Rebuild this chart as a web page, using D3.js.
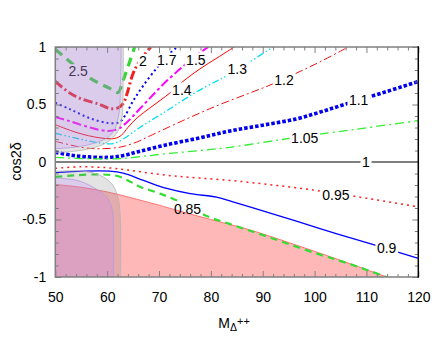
<!DOCTYPE html>
<html><head><meta charset="utf-8">
<script src="https://cdn.jsdelivr.net/npm/d3@7"></script>
<style>
body{margin:0;background:#fff;}
text{font-family:"Liberation Sans",Arial,sans-serif;}
</style></head>
<body><svg id="c" width="443" height="354"></svg>
<script>
// ---------- data ----------
const xDomain = [50, 120];
const yDomain = [-1, 1];
const xMajorTicks = [50, 60, 70, 80, 90, 100, 110, 120];
const yMajorTicks = [-1, -0.5, 0, 0.5, 1];
const levels = ["2.5","2","1.7","1.5","1.4","1.3","1.2","1.1","1.05","1","0.95","0.9","0.85"];

const curve2_5 = [[50,0.98],[53.4,0.85],[56.7,0.73],[60.5,0.64],[62.1,0.605],[63,0.70],[64.1,0.84],[65.3,1.0]];
const curve2 = [[50,0.70],[52.8,0.60],[55,0.55],[58.6,0.50],[60.5,0.465],[62.1,0.47],[63.1,0.51],[63.8,0.59],[65,0.77],[66.3,0.88],[68.4,1.0]];
const curve1_7 = [[50,0.515],[52.8,0.46],[56.7,0.38],[60.2,0.34],[62.3,0.345],[63.4,0.40],[65,0.53],[66.9,0.66],[69.6,0.82],[71.5,0.92],[73.5,1.0]];
const curve1_5 = [[50,0.39],[52.8,0.355],[56.7,0.30],[60,0.27],[62,0.285],[63.3,0.325],[65,0.40],[68.3,0.558],[71.5,0.706],[74.6,0.83],[77.3,0.93],[79.5,1.0]];
const curve1_4 = [[50,0.325],[54.2,0.255],[58.6,0.21],[61.5,0.205],[62.8,0.235],[64,0.30],[65.8,0.385],[68.3,0.472],[72.1,0.60],[74.6,0.70],[77.9,0.81],[81.2,0.905],[84.5,1.0]];
const curve1_3 = [[50,0.25],[54.2,0.205],[58.6,0.165],[61.1,0.16],[63.1,0.20],[66.3,0.30],[71.5,0.446],[76.6,0.593],[81.2,0.706],[83.7,0.766],[92,1.0]];
const curve1_2 = [[50,0.18],[55.4,0.125],[58.6,0.115],[61.9,0.125],[63.5,0.14],[65.8,0.175],[68.3,0.228],[74.6,0.36],[81.2,0.49],[87.5,0.60],[92,0.68],[96.6,0.775],[101,0.87],[106.5,1.0]];
const curve1_1 = [[50,0.085],[53,0.06],[56,0.045],[60,0.04],[63,0.055],[66,0.09],[71.5,0.15],[77.9,0.21],[83.7,0.27],[90,0.32],[96.5,0.375],[101.5,0.44],[106.8,0.515],[113,0.60],[120,0.70]];
const curve1_05 = [[50,0.04],[55,0.03],[60,0.027],[63,0.03],[67,0.05],[72,0.075],[78,0.10],[83.7,0.128],[90,0.17],[95.9,0.21],[108,0.285],[120,0.36]];
const curve1 = [[50,0],[120,0]];
const curve0_95 = [[50,-0.055],[55,-0.042],[60,-0.05],[64,-0.07],[68.3,-0.097],[73,-0.122],[77.9,-0.14],[83.7,-0.16],[90,-0.19],[96,-0.222],[102.3,-0.26],[110,-0.315],[120,-0.39]];
const curve0_9 = [[50,-0.093],[55.4,-0.08],[60.5,-0.08],[63.1,-0.097],[67,-0.16],[71.5,-0.23],[76,-0.275],[81.1,-0.305],[83.7,-0.339],[87.5,-0.39],[96.5,-0.515],[104,-0.62],[112,-0.728],[120,-0.838]];
const curve0_85 = [[50,-0.13],[53.5,-0.117],[58.6,-0.108],[61.8,-0.12],[64,-0.16],[66.3,-0.215],[70.2,-0.275],[74.7,-0.36],[79.2,-0.47],[83.7,-0.54],[90,-0.635],[100,-0.79],[107,-0.89],[113.9,-1.0]];

const labelPositions = [[54.4,0.79],[66.9,0.88],[71.5,0.89],[77.1,0.89],[74.4,0.63],[85.1,0.81],[94.1,0.715],[108.5,0.54],[98.1,0.21],[109.9,0],[104.1,-0.285],[113.9,-0.75],[75.5,-0.405]];

// excluded / allowed regions (boundary curves)
const pinkBoundary = [[50,-0.195],[55,-0.22],[60,-0.26],[65,-0.315],[70,-0.375],[75,-0.44],[80,-0.5],[87.5,-0.59],[95,-0.7],[105,-0.855],[113.9,-1.0]];
const purpleUpper = [[50,0.115],[53,0.125],[56,0.145],[58.6,0.18],[60.3,0.22],[61.5,0.29],[62.1,0.38],[62.4,0.47],[62.6,0.7],[62.7,1.0]];
const grayUpper = [[50,0.083],[54,0.095],[57,0.12],[59.5,0.16],[61.3,0.22],[62.4,0.3],[62.9,0.4],[63.05,0.55],[63.1,1.0]];
const purpleLower = [[50,-0.14],[54.2,-0.16],[57.3,-0.22],[60,-0.31],[61,-0.42],[61.2,-0.53],[61.2,-1.0]];
const grayLower = [[50,-0.08],[55.4,-0.08],[58.6,-0.115],[60.9,-0.19],[62.1,-0.31],[62.5,-0.45],[62.6,-0.6],[62.6,-1.0]];

// ---------- drawing ----------
const svg = d3.select("#c");
const L = 55.3, R = 418.3, T = 47, B = 277;
const x = d3.scaleLinear(xDomain, [L, R]);
const y = d3.scaleLinear(yDomain, [B, T]);
const curveFn = d3.curveCatmullRom.alpha(0.5);
const line = d3.line().x(d => x(d[0])).y(d => y(d[1])).curve(curveFn);

const clip = svg.append("defs").append("clipPath").attr("id","plotclip");
clip.append("rect").attr("x",L).attr("y",T).attr("width",R-L).attr("height",B-T);

const plot = svg.append("g").attr("clip-path","url(#plotclip)");

function regionPath(boundary, corners) {
  return line(boundary) + corners.map(c => "L" + x(c[0]) + "," + y(c[1])).join("") + "Z";
}

// pink region
plot.append("path").attr("d", regionPath(pinkBoundary, [[50,-1]]))
  .attr("fill","#ff0000").attr("fill-opacity",0.28).attr("stroke","none");
plot.append("path").attr("d", line(pinkBoundary)).attr("fill","none")
  .attr("stroke","#ff5a5a").attr("stroke-width",0.8);

// contour lines
const curves = [curve2_5, curve2, curve1_7, curve1_5, curve1_4, curve1_3, curve1_2, curve1_1, curve1_05, curve1, curve0_95, curve0_9, curve0_85];
const styles = [
  {c:"#33d633", w:3.2, d:"9,6"},
  {c:"#ee2020", w:3, d:"9,3,2,3"},
  {c:"#0000ff", w:2, d:"2,3"},
  {c:"#ff00ff", w:2, d:"9,3,3,3"},
  {c:"#ff0000", w:1, d:null},
  {c:"#00e0f0", w:1.3, d:"7,2.5,1.5,2.5,1.5,2.5"},
  {c:"#ee1111", w:1, d:"8,3,2,3"},
  {c:"#0000ee", w:3.6, d:"3.5,2"},
  {c:"#33ee33", w:1.3, d:"9,4,2,4"},
  {c:"#000000", w:1.2, d:null},
  {c:"#ff2020", w:1.5, d:"2,4"},
  {c:"#0000ff", w:1.3, d:null},
  {c:"#33dd33", w:2.2, d:"7,5"}
];

const defs = svg.select("defs");
const labelG = svg.append("g");
const linesG = plot.append("g");
const lblTexts = labelG.selectAll("text").data(levels).join("text")
  .attr("x", (d,i) => x(labelPositions[i][0]))
  .attr("y", (d,i) => y(labelPositions[i][1]))
  .attr("dy","0.36em")
  .attr("text-anchor","middle")
  .attr("font-size","14px")
  .attr("fill","#000")
  .text(d => d);

curves.forEach((cv, i) => {
  const bb = lblTexts.nodes()[i].getBBox();
  const m = defs.append("mask").attr("id","m"+i).attr("maskUnits","userSpaceOnUse")
    .attr("x",0).attr("y",0).attr("width",443).attr("height",354);
  m.append("rect").attr("x",0).attr("y",0).attr("width",443).attr("height",354).attr("fill","#fff");
  m.append("rect").attr("x",bb.x-1.5).attr("y",bb.y+1).attr("width",bb.width+3).attr("height",bb.height-2).attr("fill","#000");
  const s = styles[i];
  linesG.append("path").attr("d", line(cv)).attr("fill","none")
    .attr("stroke", s.c).attr("stroke-width", s.w)
    .attr("stroke-dasharray", s.d)
    .attr("mask","url(#m"+i+")");
});
labelG.raise();

// gray rings (gray region minus purple region)
const regG = svg.append("g").attr("clip-path","url(#plotclip)");
regG.append("path")
  .attr("d", regionPath(grayUpper, [[50,1]]) + regionPath(purpleUpper, [[50,1]]))
  .attr("fill","#808080").attr("fill-opacity",0.22).attr("fill-rule","evenodd");
regG.append("path")
  .attr("d", regionPath(grayLower, [[50,-1]]) + regionPath(purpleLower, [[50,-1]]))
  .attr("fill","#808080").attr("fill-opacity",0.22).attr("fill-rule","evenodd");
[grayUpper, grayLower].forEach(g => regG.append("path").attr("d", line(g)).attr("fill","none")
  .attr("stroke","#b4b4b4").attr("stroke-width",0.8));
// purple regions
regG.append("path").attr("d", regionPath(purpleUpper, [[50,1]]))
  .attr("fill","#a880d0").attr("fill-opacity",0.4);
regG.append("path").attr("d", regionPath(purpleLower, [[50,-1]]))
  .attr("fill","#a880d0").attr("fill-opacity",0.4);
[purpleUpper, purpleLower].forEach(g => regG.append("path").attr("d", line(g)).attr("fill","none")
  .attr("stroke","#b29ae0").attr("stroke-width",0.8));

// ---------- axes ----------
const tickCol = "#808080";
const xMinor = d3.range(50, 121, 2).filter(v => v % 10 !== 0);
const yMinor = d3.range(-10, 11, 1).map(v => v / 10).filter(v => Math.abs(v * 2 - Math.round(v * 2)) > 1e-9);

function styleAxis(g) {
  g.select(".domain").remove();
  g.selectAll(".tick line").attr("stroke", tickCol).attr("stroke-width", 1);
  g.selectAll(".tick text").attr("font-size","14px").attr("fill","#000")
    .attr("font-family",'"Liberation Sans",Arial,sans-serif');
}
svg.append("g").attr("transform",`translate(0,${B})`)
  .call(d3.axisBottom(x).tickValues(xMajorTicks).tickSize(-6).tickPadding(15).tickFormat(d => String(d))).call(styleAxis);
svg.append("g").attr("transform",`translate(0,${B})`)
  .call(d3.axisBottom(x).tickValues(xMinor).tickSize(-3).tickFormat("")).call(styleAxis);
svg.append("g").attr("transform",`translate(0,${T})`)
  .call(d3.axisTop(x).tickValues(xMajorTicks).tickSize(-6).tickFormat("")).call(styleAxis);
svg.append("g").attr("transform",`translate(0,${T})`)
  .call(d3.axisTop(x).tickValues(xMinor).tickSize(-3.5).tickFormat("")).call(styleAxis);
svg.append("g").attr("transform",`translate(${L},0)`)
  .call(d3.axisLeft(y).tickValues(yMajorTicks).tickSize(-6).tickPadding(9).tickFormat(d => String(d))).call(styleAxis);
svg.append("g").attr("transform",`translate(${L},0)`)
  .call(d3.axisLeft(y).tickValues(yMinor).tickSize(-3.5).tickFormat("")).call(styleAxis);
svg.append("g").attr("transform",`translate(${R},0)`)
  .call(d3.axisRight(y).tickValues(yMajorTicks).tickSize(-6).tickFormat("")).call(styleAxis);
svg.append("g").attr("transform",`translate(${R},0)`)
  .call(d3.axisRight(y).tickValues(yMinor).tickSize(-3.5).tickFormat("")).call(styleAxis);

// frame
const frame = svg.append("g").attr("fill","none");
frame.append("path").attr("d",`M${R},${T}H${L}V${B}H${R}`).attr("stroke","#808080").attr("stroke-width",1.5);
frame.append("path").attr("d",`M${R},${T-0.75}V${B+0.75}`).attr("stroke","#000").attr("stroke-width",1.5);

// axis titles
const xt = svg.append("text").attr("x",218.3).attr("y",328.3).attr("font-size","14px").attr("fill","#000");
xt.append("tspan").text("M");
xt.append("tspan").attr("font-size","10.5px").attr("dy",3).text("Δ");
xt.append("tspan").attr("font-size","11px").attr("dy",-6).text("++");
svg.append("text").attr("transform","translate(21,161.5) rotate(-90)")
  .attr("text-anchor","middle").attr("font-size","14.5px").attr("fill","#000").text("cos2δ");
</script></body></html>
